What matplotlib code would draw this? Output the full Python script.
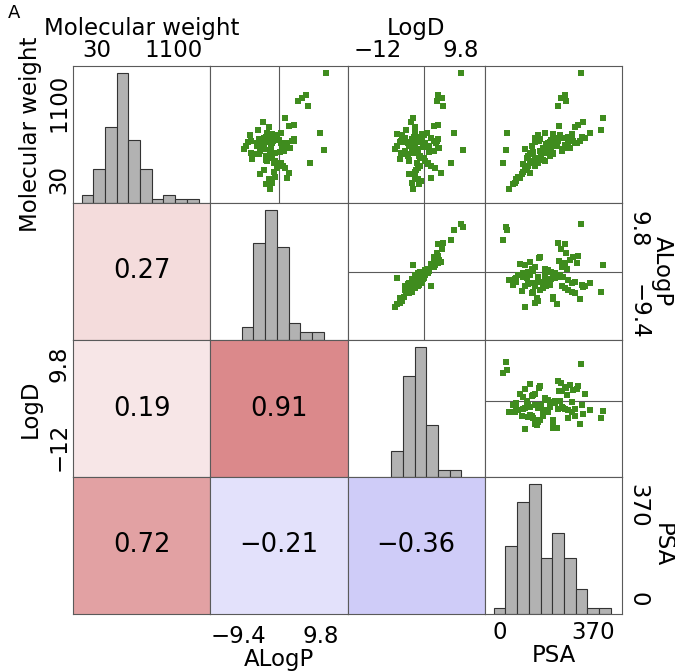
import matplotlib.pyplot as plt
import numpy as np

# descriptors of each compound
mw = [1517, 443, 686, 256, 1218, 1167, 1129, 1059, 896, 835, 788, 779, 686, 718, 686, 765,
      55, -99, -39, -15, 32, 69, 102, 134, 158, 8, 195, 218,
      452, 555, 658, 405, 312, 499, 382, 499, 382, 429, 475, 522, 555, 359, 289, 335,
      359, 396, 443, 489, 536, 569, 265, 303, 359, 452, 508, 555, 601, 545, 569, 616,
      630, 662, 630, 616, 648, 616, 583, 545, 601, 569, 415, 396, 335, 242, 265, 218,
      195, 289, 499, 536, 429, 475, 569, 475, 125, 662, 616]
psa = [321, 24, 30, 13, 260, 242, 261, 232, 411, 329, 311, 234, 179, 400, 358, 298,
       79, 35, 53, 59, 66, 73, 86, 92, 99, 66, 106, 112,
       99, 139, 152, 212, 148, 225, 212, 126, 132, 159, 172, 185, 199, 112, 119, 139,
       165, 179, 192, 205, 218, 232, 152, 172, 199, 245, 258, 272, 285, 298, 318, 338,
       325, 287, 272, 252, 238, 218, 205, 192, 159, 156, 132, 119, 106, 92, 126, 139,
       99, 179, 265, 305, 245, 278, 291, 258, 119, 212, 139]
alogp = [11.0, 10.5, 9.7, 7.3, 6.4, 5.3, 4.4, 6.7, 1.5, -3.7, 3.6, 2.4, 0.6, -4.9, -2.7, -2.4,
         1.8, -2.0, -3.1, -1.7, -2.4, -0.8, -4.5, -1.2, -3.5, -1.6, -0.4, 0.0,
         -8.2, -7.3, -6.8, -6.5, -6.3, -7.6, -5.9, -5.1, -4.7, -4.3, -3.9, -3.5, -3.1, -2.9, -2.8, -2.6,
         -2.4, -2.1, -2.0, -1.8, -1.6, -1.4, -1.2, -3.1, -2.8, -3.5, -3.9, -4.3, -4.7, -5.1, -6.4, -3.5,
         -3.1, -2.6, -2.0, -1.2, -0.8, -0.4, 0.0, 0.4, 3.5, 3.1, 0.2, -0.8, -1.6, -0.4, 0.5, 1.0,
         1.5, -0.8, 0.7, 1.9, 1.1, 2.7, 3.5, 2.1, 2.3, -1.6, -3.5]
logd = [9.8, 10.3, 8.0, 7.2, 3.7, 4.8, 3.5, 5.1, -2.7, -3.4, 3.8, 2.6, 0.8, -4.6, -2.4, -2.2,
        1.9, -2.8, -1.2, -3.0, -1.5, -2.3, -4.0, -2.2, -2.0, -0.6, -1.6, -1.0,
        -7.5, -6.2, -5.6, -6.0, -6.3, -7.0, -5.1, -3.9, -4.4, -5.0, -2.4, -2.5, -1.6, -4.2, -3.8, -1.0,
        -1.2, -2.9, -3.0, -0.2, 0.0, -2.2, -1.8, -4.0, -0.9, -1.6, -2.2, -4.6, -3.0, -4.1, -6.0, 1.9,
        -1.2, -0.4, -2.5, -1.9, 0.1, -0.6, -0.4, 0.2, 3.8, 3.5, 1.5, -1.5, 0.0, 1.0, 1.2, 1.9,
        3.0, 0.2, 1.5, 3.2, 2.6, 4.1, 2.8, 3.7, 4.5, -7.0, -5.0]

# diagonal histograms
mw_edges = [-178, -15, 149, 312, 475, 639, 802, 966, 1129, 1293, 1456]
mw_counts = [2, 8, 18, 31, 15, 8, 1, 2, 1, 1]
alogp_edges = [-8.7, -5.95, -3.2, -0.5, 2.25, 5.0, 7.7, 10.45]
alogp_counts = [3, 23, 31, 22, 4, 2, 2]
logd_edges = [-8.5, -5.45, -2.4, 0.7, 3.75, 6.8, 9.9]
logd_counts = [7, 27, 35, 14, 2, 2]
psa_edges = [-24, 22, 69, 115, 162, 208, 255, 301, 347, 394, 440]
psa_counts = [1, 11, 18, 21, 9, 13, 9, 4, 1, 1]

# correlations printed in the lower triangle
corr = {(1, 0): 0.27, (2, 0): 0.19, (2, 1): 0.91,
        (3, 0): 0.72, (3, 1): -0.21, (3, 2): -0.36}

names = ["Molecular weight", "ALogP", "LogD", "PSA"]
ticks = [[30, 1100], [-9.4, 9.8], [-12, 9.8], [0, 370]]
tick_labels = [["30", "1100"], ["\u22129.4", "9.8"], ["\u221212", "9.8"], ["0", "370"]]

values = [mw, alogp, logd, psa]
hists = [(mw_edges, mw_counts), (alogp_edges, alogp_counts),
         (logd_edges, logd_counts), (psa_edges, psa_counts)]
lims = [(-300, 1620), (-16, 16), (-20, 16), (-60, 485)]
zero_line = [False, True, True, False]

FS = 16.5
frame = "#5a5a5a"
green = "#3f8c1e"


def cell_color(r):
    end = np.array([215, 125, 127]) if r > 0 else np.array([122, 113, 236])
    return tuple((255 - abs(r) * (255 - end)) / 255)


fig, axes = plt.subplots(4, 4, figsize=(6.75, 6.72), dpi=100,
                         gridspec_kw={"hspace": 0, "wspace": 0})
fig.subplots_adjust(left=73 / 675, right=622 / 675, top=1 - 66 / 672, bottom=1 - 614 / 672)

for i in range(4):
    for j in range(4):
        ax = axes[i][j]
        ax.set_xticks([])
        ax.set_yticks([])
        ax.tick_params(length=0, labelsize=FS)
        for sp in ax.spines.values():
            sp.set_color(frame)
            sp.set_linewidth(0.8)
            sp.set_zorder(5)
        if i < j:
            ax.scatter(values[j], values[i], s=17, marker="s", color=green,
                       linewidths=0, zorder=3)
            if zero_line[j]:
                ax.axvline(0, color=frame, lw=0.8, zorder=2)
            if zero_line[i]:
                ax.axhline(0, color=frame, lw=0.8, zorder=2)
            ax.set_xlim(lims[j])
            ax.set_ylim(lims[i])
        elif i == j:
            edges, counts = hists[i]
            ax.bar(edges[:-1], counts, width=np.diff(edges), align="edge",
                   color="#b2b2b2", edgecolor="#333333", linewidth=0.8)
            ax.set_xlim(lims[i])
            ax.set_ylim(0, max(counts) * 1.05)
        else:
            r = corr[(i, j)]
            ax.set_facecolor(cell_color(r))
            ax.text(0.5, 0.5, f"{r:.2f}".replace("-", "\u2212"), transform=ax.transAxes,
                    ha="center", va="center", fontsize=18.5)
            ax.set_xlim(lims[j])
            ax.set_ylim(lims[i])

# top axes
for j in (0, 2):
    ax = axes[0][j]
    ax.xaxis.tick_top()
    ax.xaxis.set_label_position("top")
    ax.set_xticks(ticks[j], tick_labels[j])
    ax.tick_params(axis="x", pad=3)
    ax.set_xlabel(names[j], fontsize=FS, labelpad=3)

# bottom axes
for j, pad, lpad in ((1, 8, 0), (3, 5, 0)):
    ax = axes[3][j]
    ax.set_xticks(ticks[j], tick_labels[j])
    ax.tick_params(axis="x", pad=pad)
    ax.set_xlabel(names[j], fontsize=FS, labelpad=lpad)

# left axes
left_row0 = axes[0][0].twinx()
left_row0.set_ylim(lims[0])
left_row0.yaxis.tick_left()
left_row0.yaxis.set_label_position("left")
left_row0.set_zorder(-1)
for sp in left_row0.spines.values():
    sp.set_visible(False)
for ax, k in ((left_row0, 0), (axes[2][0], 2)):
    ax.set_yticks(ticks[k], tick_labels[k], rotation=90, va="center")
    ax.tick_params(axis="y", length=0, pad=2, labelsize=FS)
    ax.set_ylabel(names[k], fontsize=FS, labelpad=4)

# right axes
right_row3 = axes[3][3].twinx()
right_row3.set_ylim(lims[3])
for sp in right_row3.spines.values():
    sp.set_visible(False)
axes[1][3].yaxis.tick_right()
axes[1][3].yaxis.set_label_position("right")
for ax, k in ((axes[1][3], 1), (right_row3, 3)):
    ax.set_yticks(ticks[k], tick_labels[k], rotation=270, va="center")
    ax.tick_params(axis="y", length=0, pad=3, labelsize=FS)
    ax.set_ylabel(names[k], fontsize=FS, rotation=270, va="bottom", labelpad=1)

fig.text(8 / 675, 1 - 13 / 672, "A", fontsize=13, va="center", ha="left")

fig.savefig("out.png", dpi=100)
